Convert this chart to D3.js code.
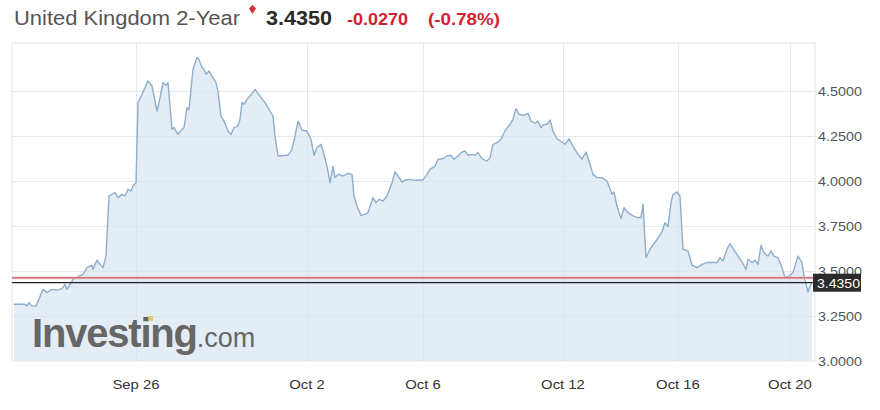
<!DOCTYPE html>
<html><head><meta charset="utf-8">
<script src="https://cdn.jsdelivr.net/npm/d3@7"></script>
<style>
html,body{margin:0;padding:0;background:#fff;}
svg{display:block;font-family:"Liberation Sans",Arial,sans-serif;}
</style></head>
<body><svg id="c" width="880" height="410"></svg>
<script>
// time steps (uniform intraday steps across the window) and yields (%)
const steps = [0,11,13,15,18,22,29,33,38,43,48,51,53,56,59,64,69,73,78,79,83,86,89,92,95,98,101,104,108,111,114,117,119,122,124,128,131,133,
134,138,143,145,149,152,154,158,160,164,168,170,173,175,179,183,185,188,190,192,195,198,202,204,207,210,214,217,220,224,226,228,230,233,236,241,246,251,255,259,261,264,268,271,
274,278,281,284,288,293,297,300,303,307,309,313,316,319,321,324,329,334,338,340,343,347,351,354,359,362,365,369,373,378,381,384,388,391,396,401,406,
409,413,416,421,424,429,433,437,440,444,448,451,454,458,461,464,468,473,476,479,483,487,491,496,499,502,505,509,514,517,521,524,527,530,533,536,
539,543,548,551,555,559,564,568,572,575,579,583,588,593,598,600,603,607,610,614,619,624,627,629,632,636,643,648,651,654,657,659,663,666,669,674,
676,678,683,688,693,698,703,706,709,713,716,719,724,728,732,734,738,741,744,747,750,754,757,760,764,768,771,775,779,784,788,790,794,796,798];
const yields = [3.315,3.315,3.305,3.324,3.305,3.305,3.398,3.380,3.398,3.394,3.402,3.426,3.398,3.426,3.454,3.469,3.482,3.519,3.532,3.509,3.561,3.537,3.519,3.583,3.917,3.926,3.936,3.908,3.926,3.917,3.954,3.944,3.972,3.991,4.436,4.482,4.519,4.547,
4.556,4.528,4.389,4.436,4.547,4.532,4.547,4.287,4.297,4.259,4.287,4.297,4.408,4.398,4.621,4.686,4.676,4.630,4.621,4.593,4.611,4.583,4.547,4.500,4.361,4.333,4.278,4.259,4.297,4.306,4.343,4.436,4.426,4.454,4.472,4.509,4.472,4.436,4.398,4.361,4.250,4.139,4.139,4.143,
4.143,4.176,4.250,4.333,4.283,4.278,4.232,4.143,4.186,4.204,4.167,4.083,3.991,4.083,4.019,4.037,4.028,4.043,4.037,3.917,3.861,3.809,3.815,3.824,3.908,3.880,3.898,3.889,3.917,3.991,4.050,4.028,3.994,4.006,4.009,4.004,4.006,
4.006,4.037,4.065,4.083,4.121,4.124,4.139,4.143,4.121,4.139,4.161,4.167,4.143,4.148,4.143,4.158,4.124,4.111,4.130,4.204,4.213,4.232,4.278,4.315,4.343,4.402,4.371,4.365,4.376,4.333,4.321,4.333,4.297,4.315,4.315,4.339,
4.278,4.235,4.217,4.204,4.235,4.194,4.148,4.121,4.161,4.111,4.037,4.019,4.019,4.000,3.926,3.939,3.861,3.791,3.852,3.824,3.806,3.797,3.797,3.871,3.574,3.621,3.676,3.717,3.769,3.747,3.880,3.926,3.939,3.917,3.621,3.611,
3.574,3.532,3.519,3.537,3.547,3.547,3.547,3.574,3.556,3.621,3.652,3.624,3.583,3.550,3.509,3.565,3.547,3.561,3.537,3.643,3.602,3.583,3.611,3.583,3.574,3.519,3.463,3.472,3.491,3.583,3.547,3.472,3.383,3.417,3.435];
const xTickSteps = [122,293,409,549,664,776];
const xTickLabels = ["Sep 26","Oct 2","Oct 6","Oct 12","Oct 16","Oct 20"];
const yTicks = [3.0,3.25,3.5,3.75,4.0,4.25,4.5];
const lastPrice = 3.435, prevClose = 3.462, change = -0.0270, changePct = -0.78;
const title = "United Kingdom 2-Year";

const data = steps.map((s,i)=>({s, v:yields[i]}));
const svg = d3.select("#c");
const L=12, R=815, T=43, B=361;
const x = d3.scaleLinear().domain([0,798]).range([14,812]);
const y = d3.scaleLinear().domain([3.0,4.767]).range([B,T]);
const HS = 1.1; // horizontal stretch of the reference's lettering

// plot frame
svg.append("rect").attr("x",L).attr("y",T).attr("width",R-L).attr("height",B-T)
  .attr("fill","#fff").attr("stroke","#e6e6e6");
// grid
svg.append("g").selectAll("line").data(yTicks.slice(1)).join("line")
  .attr("x1",L).attr("x2",R).attr("y1",d=>Math.round(y(d))+0.5).attr("y2",d=>Math.round(y(d))+0.5)
  .attr("stroke","#f1f1f1");
svg.append("g").selectAll("line").data(xTickSteps).join("line")
  .attr("y1",T).attr("y2",B).attr("x1",d=>Math.round(x(d))+0.5).attr("x2",d=>Math.round(x(d))+0.5)
  .attr("stroke","#f1f1f1");

// area
svg.append("path").datum(data)
  .attr("d", d3.area().x(d=>x(d.s)).y0(B).y1(d=>y(d.v)))
  .attr("fill","#dfe9f3").attr("fill-opacity",0.85);
// grid over area (faint)
svg.append("g").selectAll("line").data(yTicks.slice(1)).join("line")
  .attr("x1",L).attr("x2",R).attr("y1",d=>Math.round(y(d))+0.5).attr("y2",d=>Math.round(y(d))+0.5)
  .attr("stroke","#d8e2ec").attr("stroke-opacity",0.5);
svg.append("g").selectAll("line").data(xTickSteps).join("line")
  .attr("y1",T).attr("y2",B).attr("x1",d=>Math.round(x(d))+0.5).attr("x2",d=>Math.round(x(d))+0.5)
  .attr("stroke","#d8e2ec").attr("stroke-opacity",0.5);

// watermark
const wm = svg.append("text").attr("x",32).attr("y",347).attr("fill","#666");
wm.append("tspan").text("Investing").attr("font-size",40).attr("font-weight","bold").attr("letter-spacing",-1.2);
wm.append("tspan").text(".com").attr("font-size",27);
svg.append("rect").attr("x",148).attr("y",316).attr("width",5).attr("height",5).attr("fill","#e8c15a").attr("opacity",0.8);

// line
svg.append("path").datum(data)
  .attr("d", d3.line().x(d=>x(d.s)).y(d=>y(d.v)))
  .attr("fill","none").attr("stroke","#8eaecb").attr("stroke-width",1.4).attr("stroke-linejoin","round");

// previous close and last price lines
svg.append("line").attr("x1",L).attr("x2",R).attr("y1",y(prevClose)).attr("y2",y(prevClose))
  .attr("stroke","#f2c4c8").attr("stroke-width",2.6);
svg.append("line").attr("x1",L).attr("x2",R).attr("y1",y(prevClose)).attr("y2",y(prevClose))
  .attr("stroke","#b0424c").attr("stroke-width",0.9);
svg.append("line").attr("x1",L).attr("x2",R).attr("y1",y(lastPrice)).attr("y2",y(lastPrice))
  .attr("stroke","#222").attr("stroke-width",1.3);

// y axis labels (3.5000 partly hidden behind the price tag, as in the reference)
svg.append("g").selectAll("text").data(yTicks).join("text")
  .attr("x",818).attr("y",d=>y(d)+5).attr("font-size",13).attr("fill","#555")
  .attr("textLength",44).attr("lengthAdjust","spacingAndGlyphs")
  .text(d=>d.toFixed(4));
// last price tag
svg.append("rect").attr("x",813).attr("y",y(lastPrice)-9).attr("width",48).attr("height",18).attr("fill","#2b2b2b");
svg.append("text").attr("x",817).attr("y",y(lastPrice)+5).attr("font-size",13).attr("fill","#fff")
  .attr("textLength",43).attr("lengthAdjust","spacingAndGlyphs").text(lastPrice.toFixed(4));

// x axis labels
svg.append("g").selectAll("text").data(xTickSteps).join("text")
  .attr("x",d=>x(d)).attr("y",389).attr("text-anchor","middle").attr("font-size",13.5).attr("fill","#333")
  .attr("transform",d=>`translate(${x(d)*(1-HS)},0) scale(${HS},1)`)
  .text((d,i)=>xTickLabels[i]);

// header
svg.append("text").attr("x",14).attr("y",25).attr("font-size",20).attr("fill","#555")
  .attr("textLength",226).attr("lengthAdjust","spacingAndGlyphs").text(title);
svg.append("path").attr("d","M249,8.5 L252.5,5 L256,8.5 L252.5,14 Z").attr("fill","#d7313a");
svg.append("text").attr("x",266).attr("y",25).attr("font-size",20).attr("font-weight","bold").attr("fill","#2a2a2a")
  .attr("textLength",66).attr("lengthAdjust","spacingAndGlyphs").text(lastPrice.toFixed(4));
svg.append("text").attr("x",347).attr("y",25).attr("font-size",16).attr("font-weight","bold").attr("fill","#d0222f")
  .attr("textLength",61).attr("lengthAdjust","spacingAndGlyphs").text(change.toFixed(4));
svg.append("text").attr("x",428).attr("y",25).attr("font-size",16).attr("font-weight","bold").attr("fill","#d0222f")
  .attr("textLength",72).attr("lengthAdjust","spacingAndGlyphs").text("("+changePct.toFixed(2)+"%)");
</script></body></html>
